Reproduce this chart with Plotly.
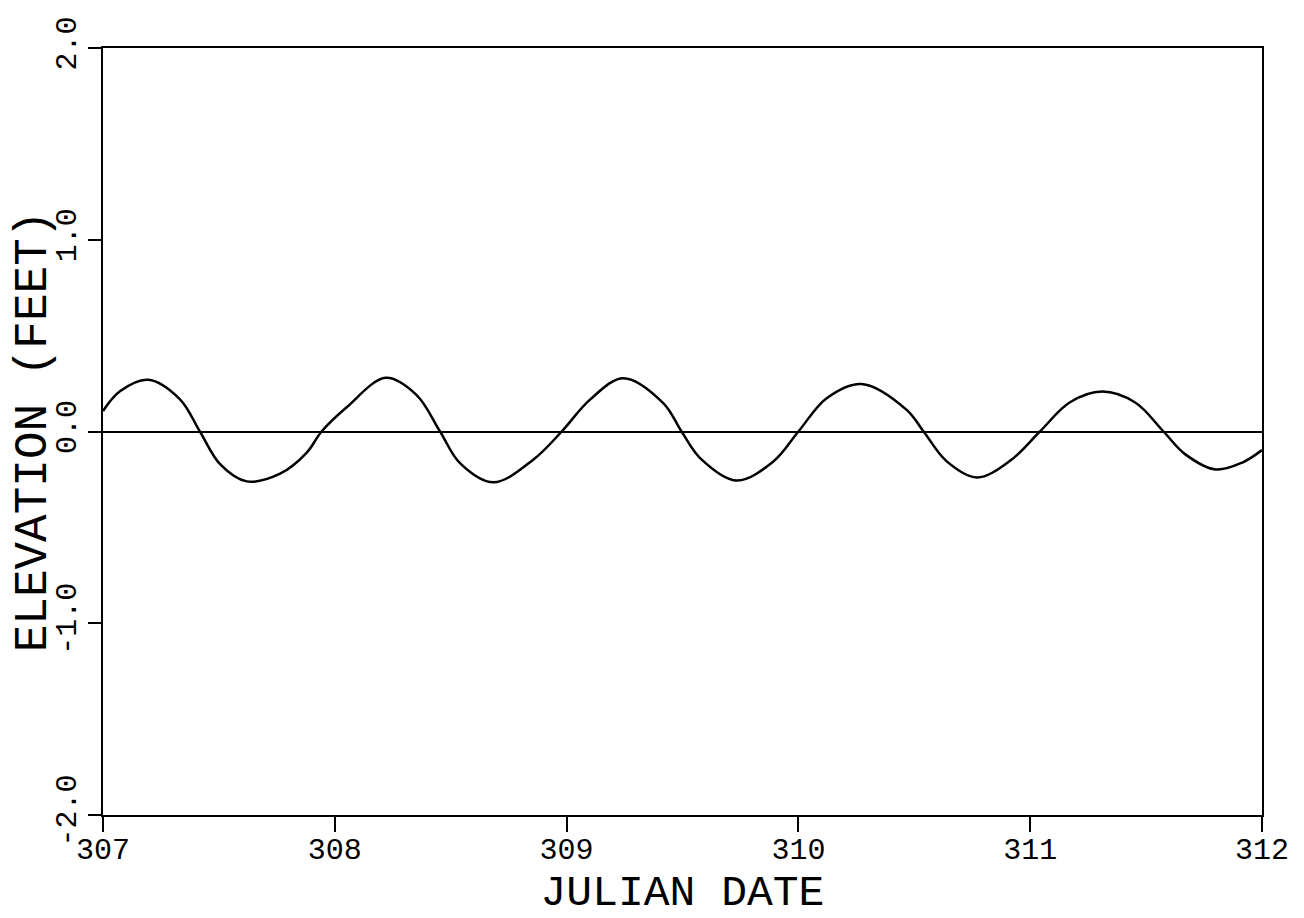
import plotly.graph_objects as go

# Julian date (days) and water-surface elevation (feet)
julian_date = [307.0, 307.073, 307.195, 307.332, 307.418, 307.505, 307.62, 307.764,
               307.879, 307.943, 308.05, 308.22, 308.353, 308.454, 308.54, 308.684,
               308.856, 308.979, 309.10, 309.245, 309.417, 309.496, 309.577, 309.734,
               309.892, 310.0, 310.122, 310.273, 310.467, 310.54, 310.64, 310.77,
               310.913, 311.042, 311.17, 311.31, 311.453, 311.575, 311.668, 311.80,
               311.915, 312.0]
elevation = [0.107, 0.21, 0.27, 0.168, 0.0, -0.17, -0.26, -0.22,
             -0.11, 0.0, 0.125, 0.28, 0.19, 0.0, -0.165, -0.265,
             -0.147, 0.0, 0.165, 0.278, 0.148, 0.0, -0.14, -0.256,
             -0.156, 0.0, 0.174, 0.248, 0.113, 0.0, -0.156, -0.24,
             -0.153, 0.0, 0.151, 0.208, 0.151, 0.0, -0.118, -0.198,
             -0.162, -0.097]

x_ticks = [307, 308, 309, 310, 311, 312]
x_tick_labels = ["307", "308", "309", "310", "311", "312"]
y_ticks = [-2.0, -1.0, 0.0, 1.0, 2.0]
y_tick_labels = ["-2.0", "-1.0", "0.0", "1.0", "2.0"]

FONT = "Liberation Mono"

fig = go.Figure()
fig.add_trace(go.Scatter(
    x=julian_date, y=elevation, mode="lines",
    line=dict(color="black", width=2.5, shape="spline", smoothing=1.0),
    showlegend=False, hoverinfo="skip",
))

# page body has an 8px margin, so the figure is sized to fit inside the window
fig.update_layout(
    width=1296, height=910,
    margin=dict(l=95, r=42, t=40, b=103),
    paper_bgcolor="white", plot_bgcolor="white",
    font=dict(family=FONT, color="black"),
    xaxis=dict(
        range=[307, 312], tickvals=x_ticks, ticktext=x_tick_labels,
        showgrid=False, zeroline=False, automargin=False,
        showline=True, linecolor="black", linewidth=2, mirror=True,
        ticks="outside", ticklen=15, tickwidth=2, tickcolor="black",
        tickfont=dict(family=FONT, size=30, color="black"),
        ticklabelstandoff=-9,
        title=dict(text="JULIAN DATE", font=dict(family=FONT, size=43, color="black"),
                   standoff=10),
    ),
    yaxis=dict(
        range=[-2, 2], tickvals=y_ticks, ticktext=y_tick_labels,
        showgrid=False, zeroline=True, zerolinecolor="black", zerolinewidth=2,
        showline=True, linecolor="black", linewidth=2, mirror=True,
        ticks="outside", ticklen=13, tickwidth=2, tickcolor="black",
        tickangle=-90, automargin=False,
        tickfont=dict(family=FONT, size=30, color="black"),
        title=dict(text="ELEVATION (FEET)", font=dict(family=FONT, size=46, color="black"),
                   standoff=2),
    ),
)

fig.write_html("out.html")
